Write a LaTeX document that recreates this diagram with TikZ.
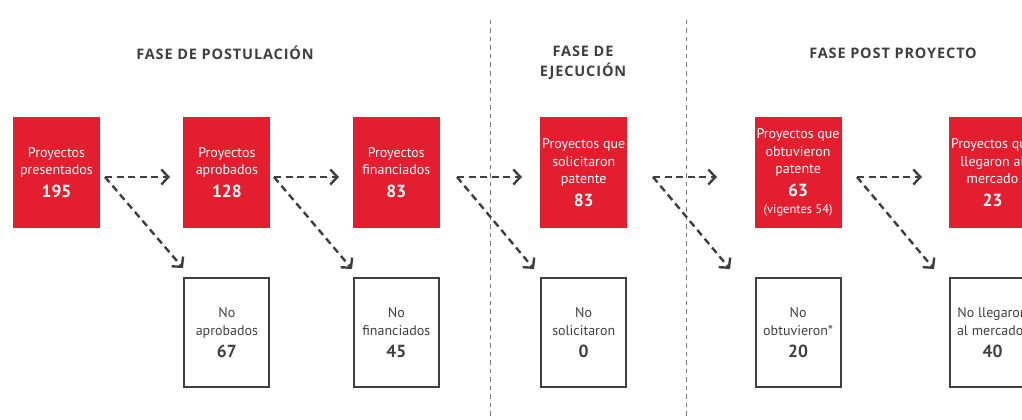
\documentclass[tikz,border=0pt]{standalone}
\usepackage{fontspec}
\setmainfont{PT Sans}
\newfontfamily\headfont[LetterSpace=6]{Open Sans}
\usepackage{tikz}
\usetikzlibrary{
  arrows.meta,
  positioning
}
\definecolor{boxred}{HTML}{E31E2F}
\definecolor{ink}{HTML}{3F3F3F}
\definecolor{rulegray}{HTML}{7A7A7A}
\newcommand{\boxfont}{\fontsize{14}{17.5}\selectfont}
\newcommand{\numfont}{\fontsize{17.5}{20}\selectfont\bfseries}

\begin{document}
\begin{tikzpicture}[
  x=1pt, y=-1pt,
  redbox/.style={fill=boxred, text=white, minimum width=87pt, minimum height=111pt, align=center, inner sep=0pt, font=\boxfont},
  nobox/.style={draw=ink, line width=2pt, text=ink, minimum width=85pt, minimum height=109pt, align=center, inner sep=0pt, font=\boxfont},
  flow/.style={draw=ink, line width=2.4pt, dash pattern=on 7pt off 4.5pt, -{Straight Barb[length=7pt,width=15pt]}},
  sep/.style={draw=rulegray, line width=0.8pt, dash pattern=on 4.5pt off 4pt},
  phase/.style={text=ink, align=center, font=\headfont\bfseries\fontsize{14.5}{20.5}\selectfont}
]
\useasboundingbox (0,0) rectangle (1022,420);
\clip (0,0) rectangle (1022,420);

\draw[sep] (490,20) -- (490,420);
\draw[sep] (686,20) -- (686,420);

\node[phase] (t1) at (225,53) {FASE DE POSTULACIÓN};
\node[phase] (t2) at (583,63) {FASE DE\\EJECUCIÓN};
\node[phase] (t3) at (893,53) {FASE POST PROYECTO};

\node[redbox] (p1) at (56.5,172.5) {Proyectos\\presentados\\[5pt]{\numfont 195}};
\node[redbox, right=83pt of p1] (p2) {Proyectos\\aprobados\\[5pt]{\numfont 128}};
\node[redbox, right=82pt of p2] (p3) {Proyectos\\financiados\\[5pt]{\numfont 83}};
\node[redbox, right=100pt of p3] (p4) {Proyectos que\\solicitaron\\patente\\[5pt]{\numfont 83}};
\node[redbox, right=127pt of p4] (p5) {Proyectos que\\obtuvieron\\patente\\[5pt]{\numfont 63}\\{\fontsize{12.5}{14}\selectfont (vigentes 54)}};
\node[redbox, right=107pt of p5] (p6) {Proyectos que\\llegaron al\\mercado\\[5pt]{\numfont 23}};

\node[nobox, below=49pt of p2] (n1) {No\\aprobados\\[5pt]{\numfont 67}};
\node[nobox, below=49pt of p3] (n2) {No\\financiados\\[5pt]{\numfont 45}};
\node[nobox, below=49pt of p4] (n3) {No\\solicitaron\\[5pt]{\numfont 0}};
\node[nobox, below=49pt of p5] (n4) {No\\obtuvieron*\\[5pt]{\numfont 20}};
\node[nobox, below=49pt of p6] (n5) {No llegaron\\al mercado*\\[5pt]{\numfont 40}};

\coordinate (s1) at (105,177);
\coordinate (h1) at (170,177);
\coordinate (d1) at (183,268);
\coordinate (s2) at (274,177);
\coordinate (h2) at (339,177);
\coordinate (d2) at (352,269);
\coordinate (s3) at (457,177);
\coordinate (h3) at (522,177);
\coordinate (d3) at (534,269);
\coordinate (s4) at (653,177);
\coordinate (h4) at (717,177);
\coordinate (d4) at (730,269);
\coordinate (s5) at (857,177);
\coordinate (h5) at (922,177);
\coordinate (d5) at (934,269);

\draw[flow] (s1) -- (h1);
\draw[flow] (s1) -- (d1);
\draw[flow] (s2) -- (h2);
\draw[flow] (s2) -- (d2);
\draw[flow] (s3) -- (h3);
\draw[flow] (s3) -- (d3);
\draw[flow] (s4) -- (h4);
\draw[flow] (s4) -- (d4);
\draw[flow] (s5) -- (h5);
\draw[flow] (s5) -- (d5);
\end{tikzpicture}
\end{document}
